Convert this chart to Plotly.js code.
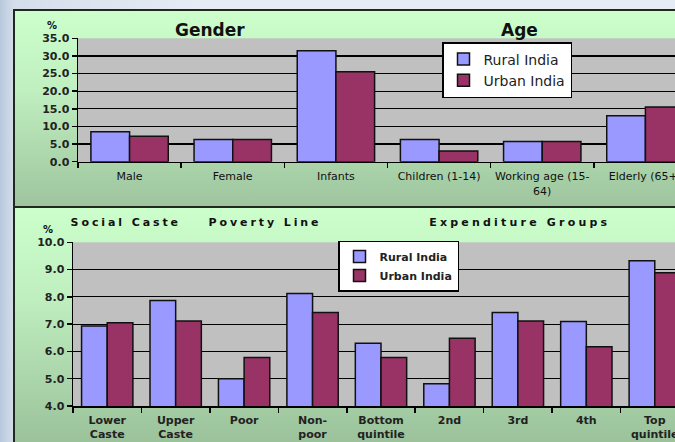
<!DOCTYPE html>
<html>
<head>
<meta charset="utf-8">
<script src="https://cdn.plot.ly/plotly-3.0.1.min.js"></script>
<style>
  html, body { margin:0; padding:0; width:675px; height:442px; overflow:hidden;
    background: linear-gradient(90deg, #b8c9dc 0px, #d4deea 14px, #e6ecf4 200px); }
  #p1 { position:absolute; left:13px; top:9px; width:720px; height:196px;
    border:2px solid #1f2a1f; background: linear-gradient(#ccffcc 0%, #c0efc0 40%, #9ec49e 100%); }
  #p2 { position:absolute; left:13px; top:206px; width:720px; height:260px;
    border:2px solid #1f2a1f; background: linear-gradient(#ccffcc 0%, #bfeebf 35%, #98be98 95%); }
  #chart { position:absolute; left:0; top:0; width:700px; height:442px; }
</style>
</head>
<body>
<div id="p1"></div>
<div id="p2"></div>
<div id="chart"></div>
<script>
// ---- data ----
const topCategories = ["Male", "Female", "Infants", "Children (1-14)", "Working age (15-<br>64)", "Elderly (65+)"];
const topRural = [8.5, 6.3, 31.5, 6.3, 5.7, 13.0];
const topUrban = [7.2, 6.3, 25.5, 3.0, 5.7, 15.5];

const bottomCategories = ["Lower<br>Caste", "Upper<br>Caste", "Poor", "Non-<br>poor", "Bottom<br>quintile", "2nd", "3rd", "4th", "Top<br>quintile"];
const bottomRural = [6.93, 7.87, 5.0, 8.12, 6.3, 4.82, 7.43, 7.1, 9.32];
const bottomUrban = [7.05, 7.12, 5.78, 7.43, 5.78, 6.48, 7.12, 6.17, 8.88];

const seriesNames = ["Rural India", "Urban India"];
const topTickVals = [0, 5, 10, 15, 20, 25, 30, 35];
const bottomTickVals = [4, 5, 6, 7, 8, 9, 10];

// ---- styles ----
const ruralColor = "#9999ff";
const urbanColor = "#993366";
const FONT = "DejaVu Sans, Verdana, sans-serif";
const barLine = {color: "#111", width: 1.5};

const traces = [
  {type: "bar", x: topCategories, y: topRural, name: seriesNames[0], xaxis: "x", yaxis: "y",
   marker: {color: ruralColor, line: barLine}, legend: "legend"},
  {type: "bar", x: topCategories, y: topUrban, name: seriesNames[1], xaxis: "x", yaxis: "y",
   marker: {color: urbanColor, line: barLine}, legend: "legend"},
  {type: "bar", x: bottomCategories, y: bottomRural, name: seriesNames[0], xaxis: "x2", yaxis: "y2",
   marker: {color: ruralColor, line: barLine}, legend: "legend2"},
  {type: "bar", x: bottomCategories, y: bottomUrban, name: seriesNames[1], xaxis: "x2", yaxis: "y2",
   marker: {color: urbanColor, line: barLine}, legend: "legend2"}
];

const W = 700, H = 442;
const xAxisCommon = {
  type: "category", showgrid: false, showline: true, linecolor: "#000", linewidth: 1.5,
  ticks: "outside", tickson: "boundaries", ticklen: 5, tickcolor: "#000", tickwidth: 1.5,
  tickangle: 0, automargin: false, fixedrange: true
};
const yAxisCommon = {
  showgrid: true, gridcolor: "#000", gridwidth: 1.2, showline: true, linecolor: "#000", linewidth: 1.5,
  ticks: "outside", ticklen: 5, tickcolor: "#000", tickwidth: 1.5, tickformat: ".1f",
  zeroline: false, automargin: false, fixedrange: true,
  tickfont: {family: FONT, size: 11, color: "#222", weight: "bold"}
};

function ann(text, x, y, size) {
  return {text: text, x: x / W, y: 1 - y / H, xref: "paper", yref: "paper",
    xanchor: "center", yanchor: "middle", showarrow: false,
    font: {family: FONT, size: size, color: "#111", weight: "bold"}};
}

const layout = {
  width: W, height: H,
  margin: {l: 0, r: 0, t: 0, b: 0},
  paper_bgcolor: "rgba(0,0,0,0)",
  plot_bgcolor: "#c0c0c0",
  bargap: 0.25,
  barmode: "group",
  showlegend: true,
  xaxis: Object.assign({}, xAxisCommon, {
    domain: [78 / W, 697 / W], anchor: "y", ticklabelstandoff: 4,
    tickfont: {family: FONT, size: 11, color: "#111"}
  }),
  yaxis: Object.assign({}, yAxisCommon, {
    domain: [1 - 161.7 / H, 1 - 38.3 / H], anchor: "x",
    range: [0, 35], tickvals: topTickVals
  }),
  xaxis2: Object.assign({}, xAxisCommon, {
    domain: [73 / W, 689 / W], anchor: "y2", ticklabelstandoff: 3,
    tickfont: {family: FONT, size: 11, color: "#222", weight: "bold"}
  }),
  yaxis2: Object.assign({}, yAxisCommon, {
    domain: [1 - 406 / H, 1 - 242.3 / H], anchor: "x2",
    range: [4, 10], tickvals: bottomTickVals
  }),
  legend: {
    x: 442 / W, y: 1 - 42 / H, xanchor: "left", yanchor: "top",
    bgcolor: "#ffffff", bordercolor: "#000", borderwidth: 1.5,
    font: {family: FONT, size: 14, color: "#222"}, tracegroupgap: 0
  },
  legend2: {
    x: 338 / W, y: 1 - 240.5 / H, xanchor: "left", yanchor: "top",
    bgcolor: "#ffffff", bordercolor: "#000", borderwidth: 1.5,
    font: {family: FONT, size: 11, color: "#222", weight: "bold"}, tracegroupgap: 0
  },
  annotations: [
    ann("Gender", 210, 30, 17),
    ann("Age", 519, 30, 17),
    ann("%", 52, 25, 10),
    ann("%", 48, 229, 10),
    ann("Social Caste", 126, 222, 11),
    ann("Poverty Line", 265, 222, 11),
    ann("Expenditure Groups", 520, 222, 11)
  ]
};

Plotly.newPlot("chart", traces, layout, {staticPlot: true, displayModeBar: false}).then(function () {
  // widen letter spacing of the lower panel headings, as in the original
  const wide = {"Social Caste": "2.9px", "Poverty Line": "2.9px", "Expenditure Groups": "3.2px"};
  document.querySelectorAll("#chart .annotation-text").forEach(function (t) {
    if (wide[t.textContent]) t.style.letterSpacing = wide[t.textContent];
  });
});
</script>
</body>
</html>
